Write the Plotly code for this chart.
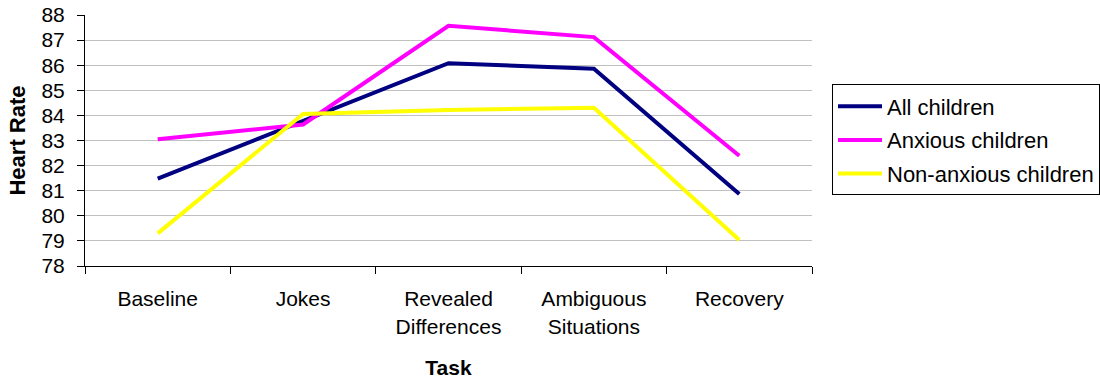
import plotly.graph_objects as go

# Task conditions and mean heart rate per group
tasks = ["Baseline", "Jokes", "Revealed<br>Differences", "Ambiguous<br>Situations", "Recovery"]
all_children = [81.48, 83.80, 86.08, 85.86, 80.87]
anxious_children = [83.05, 83.64, 87.57, 87.12, 82.39]
non_anxious_children = [79.30, 84.06, 84.22, 84.30, 79.04]

y_ticks = list(range(78, 89))

series = [
    ("All children", all_children, "#000080"),
    ("Anxious children", anxious_children, "#FF00FF"),
    ("Non-anxious children", non_anxious_children, "#FFFF00"),
]

fig = go.Figure()
for name, values, color in series:
    fig.add_trace(go.Scatter(
        x=tasks, y=values, name=name, mode="lines",
        line=dict(color=color, width=4),
        legendgroup=name,
    ))

sans = "Arial, Liberation Sans, sans-serif"
axis_font = dict(family=sans, size=21, color="black")

fig.update_layout(
    width=1100, height=383,
    margin=dict(l=85, r=288, t=15, b=117, autoexpand=False),
    paper_bgcolor="white", plot_bgcolor="white",
    showlegend=True,
    legend=dict(
        x=1.0275, xanchor="left", y=0.502, yanchor="middle",
        bordercolor="black", borderwidth=1,
        font=dict(family=sans, size=22, color="black"),
        traceorder="grouped", tracegroupgap=2,
        itemwidth=44,
    ),
    xaxis=dict(
        type="category",
        categoryorder="array", categoryarray=tasks,
        range=[-0.5, 4.5],
        tickson="boundaries",
        ticks="outside", ticklen=7, tickcolor="black",
        showline=True, linecolor="black", linewidth=1,
        showgrid=False, zeroline=False,
        tickfont=dict(family=sans, size=21, color="black"),
        ticklabelstandoff=14,
        title=dict(text="<b>Task</b>", font=dict(family=sans, size=21, color="black"),
                   standoff=23),
    ),
    yaxis=dict(
        range=[78, 88],
        tickvals=y_ticks,
        ticks="outside", ticklen=7, tickcolor="black",
        showline=True, linecolor="black", linewidth=1,
        showgrid=True, gridcolor="#C0C0C0", gridwidth=1,
        zeroline=False,
        tickfont=axis_font,
        ticklabelstandoff=8,
        title=dict(text="<b>Heart Rate</b>", font=dict(family=sans, size=22, color="black"),
                   standoff=9),
    ),
)

fig.write_html("out.html")
